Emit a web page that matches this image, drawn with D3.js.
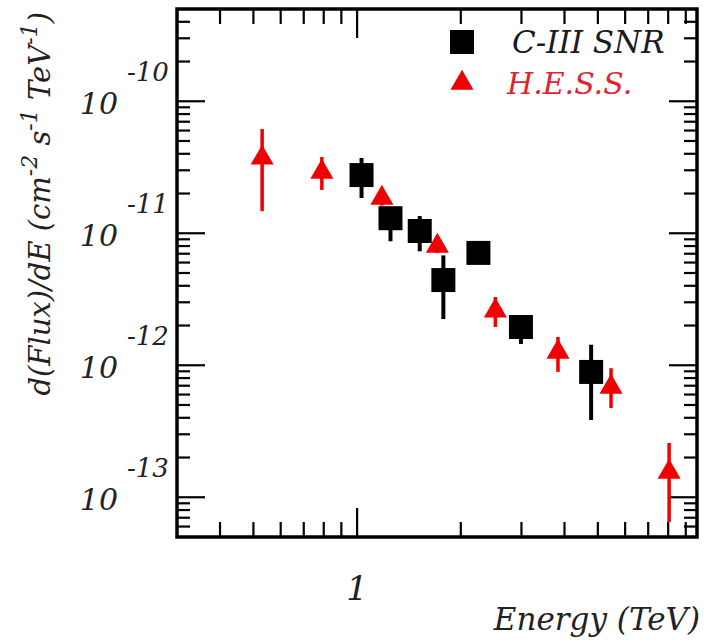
<!DOCTYPE html>
<html>
<head>
<meta charset="utf-8">
<script src="https://cdn.jsdelivr.net/npm/d3@7"></script>
<style>
  body { margin: 0; background: #fff; }
</style>
</head>
<body>
<svg id="chart" width="704" height="642"></svg>
<script>
// H.E.S.S. points (energy TeV, flux, error top, error bottom)
var hessE  = [0.53, 0.79, 1.18, 1.71, 2.52, 3.83, 5.46, 8.05];
var hessF  = [3.72e-11, 2.91e-11, 1.85e-11, 8.0e-12, 2.58e-12, 1.26e-12, 6.84e-13, 1.55e-13];
var hessHi = [6.16e-11, 3.78e-11, 2.1e-11, 9.0e-12, 3.29e-12, 1.64e-12, 9.5e-13, 2.58e-13];
var hessLo = [1.47e-11, 2.13e-11, 1.62e-11, 7.1e-12, 1.95e-12, 8.9e-13, 4.74e-13, 6.5e-14];

// C-III SNR points
var snrE  = [1.03, 1.25, 1.52, 1.78, 2.25, 2.99, 4.78];
var snrF  = [2.76e-11, 1.30e-11, 1.04e-11, 4.42e-12, 7.1e-12, 1.95e-12, 8.9e-13];
var snrHi = [3.72e-11, 1.5e-11, 1.35e-11, 6.8e-12, 7.1e-12, 2.28e-12, 1.43e-12];
var snrLo = [1.85e-11, 8.7e-12, 7.3e-12, 2.24e-12, 7.1e-12, 1.45e-12, 3.85e-13];

var yMajor = [1e-10, 1e-11, 1e-12, 1e-13];
var yMajorExp = ["-10", "-11", "-12", "-13"];
var xLabels = [1];

var red = "#f00000";
var serif = "'DejaVu Serif', serif";

var svg = d3.select("#chart");
var pLeft = 177, pRight = 697, pTop = 9, pBottom = 537;

var x = d3.scaleLog().domain([0.3, 9.7]).range([pLeft, pRight]);
var y = d3.scaleLog().domain([5e-14, 5e-10]).range([pBottom, pTop]);

function isMajor(v) {
  var l = Math.log10(v);
  return Math.abs(l - Math.round(l)) < 1e-6;
}

function label(g) {
  return g.append("text")
    .attr("font-family", serif)
    .attr("font-style", "italic");
}

// ticks, drawn inward on all four sides
var ticks = svg.append("g").attr("stroke", "#000").attr("stroke-width", 2.2);
x.ticks().forEach(function(v) {
  var px = x(v);
  if (px <= pLeft + 2 || px >= pRight - 2) return;
  var len = isMajor(v) ? 29 : 15;
  ticks.append("line").attr("x1", px).attr("x2", px).attr("y1", pBottom).attr("y2", pBottom - len);
  ticks.append("line").attr("x1", px).attr("x2", px).attr("y1", pTop).attr("y2", pTop + len);
});
y.ticks().forEach(function(v) {
  var py = y(v);
  if (py <= pTop + 2 || py >= pBottom - 2) return;
  var len = isMajor(v) ? 28 : 13;
  ticks.append("line").attr("y1", py).attr("y2", py).attr("x1", pLeft).attr("x2", pLeft + len);
  ticks.append("line").attr("y1", py).attr("y2", py).attr("x1", pRight).attr("x2", pRight - len);
});

// frame
svg.append("rect")
  .attr("x", pLeft).attr("y", pTop)
  .attr("width", pRight - pLeft).attr("height", pBottom - pTop)
  .attr("fill", "none").attr("stroke", "#000").attr("stroke-width", 3.5);

// y tick labels: 10 with exponent
yMajor.forEach(function(v, i) {
  var py = y(v);
  label(svg)
    .attr("x", 118).attr("y", py + 13)
    .attr("text-anchor", "end")
    .attr("font-size", 30)
    .attr("fill", "#222")
    .text("10");
  label(svg)
    .attr("x", 127).attr("y", py - 20)
    .attr("font-size", 26)
    .attr("fill", "#222")
    .text(yMajorExp[i]);
});

// x tick label
xLabels.forEach(function(v) {
  label(svg)
    .attr("x", x(v)).attr("y", 600)
    .attr("text-anchor", "middle")
    .attr("font-size", 34)
    .attr("fill", "#222")
    .text(v);
});

// axis titles
label(svg)
  .attr("x", 700).attr("y", 630)
  .attr("text-anchor", "end")
  .attr("font-size", 31)
  .attr("fill", "#222")
  .text("Energy (TeV)");

var yt = label(svg)
  .attr("transform", "translate(50,12) rotate(-90)")
  .attr("text-anchor", "end")
  .attr("font-size", 29)
  .attr("fill", "#222");
yt.append("tspan").text("d(Flux)/dE (cm");
yt.append("tspan").attr("dy", -13).attr("font-size", 22).text("-2");
yt.append("tspan").attr("dy", 13).text(" s");
yt.append("tspan").attr("dy", -13).attr("font-size", 22).text("-1");
yt.append("tspan").attr("dy", 13).text(" TeV");
yt.append("tspan").attr("dy", -13).attr("font-size", 22).text("-1");
yt.append("tspan").attr("dy", 13).text(")");

// error bars + markers
var snr = snrE.map(function(e, i) { return {e: e, f: snrF[i], hi: snrHi[i], lo: snrLo[i]}; });
var hess = hessE.map(function(e, i) { return {e: e, f: hessF[i], hi: hessHi[i], lo: hessLo[i]}; });

svg.append("g").selectAll("line").data(snr).enter().append("line")
  .attr("x1", function(d) { return x(d.e); }).attr("x2", function(d) { return x(d.e); })
  .attr("y1", function(d) { return y(d.hi); }).attr("y2", function(d) { return y(d.lo); })
  .attr("stroke", "#000").attr("stroke-width", 4);
svg.append("g").selectAll("path").data(snr).enter().append("path")
  .attr("d", d3.symbol(d3.symbolSquare).size(576))
  .attr("transform", function(d) { return "translate(" + x(d.e) + "," + y(d.f) + ")"; })
  .attr("fill", "#000");

svg.append("g").selectAll("line").data(hess).enter().append("line")
  .attr("x1", function(d) { return x(d.e); }).attr("x2", function(d) { return x(d.e); })
  .attr("y1", function(d) { return y(d.hi); }).attr("y2", function(d) { return y(d.lo); })
  .attr("stroke", red).attr("stroke-width", 3.5);
svg.append("g").selectAll("path").data(hess).enter().append("path")
  .attr("d", d3.symbol(d3.symbolTriangle).size(230))
  .attr("transform", function(d) { return "translate(" + x(d.e) + "," + y(d.f) + ")"; })
  .attr("fill", red);

// legend
svg.append("path")
  .attr("d", d3.symbol(d3.symbolSquare).size(576))
  .attr("transform", "translate(462,42)")
  .attr("fill", "#000");
label(svg)
  .attr("x", 512).attr("y", 53)
  .attr("font-size", 31).attr("fill", "#1a1a22")
  .text("C-III SNR");
svg.append("path")
  .attr("d", d3.symbol(d3.symbolTriangle).size(230))
  .attr("transform", "translate(462,83)")
  .attr("fill", red);
label(svg)
  .attr("x", 507).attr("y", 94)
  .attr("font-size", 30).attr("fill", "#e2232e")
  .text("H.E.S.S.");
</script>
</body>
</html>
